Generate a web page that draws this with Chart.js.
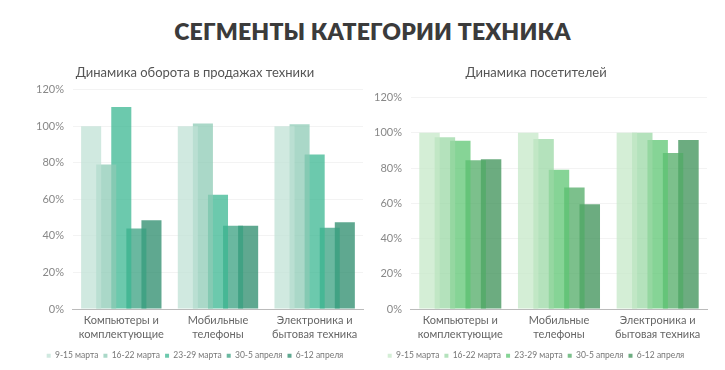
<!DOCTYPE html>
<html>
<head>
<meta charset="utf-8">
<script src="https://cdn.jsdelivr.net/npm/chart.js@4.4.0/dist/chart.umd.min.js"></script>
<style>
  body { margin: 0; background: #fff; width: 725px; height: 370px; position: relative; overflow: hidden; }
  h1 { position: absolute; left: 0; top: 17px; width: 745px; margin: 0; text-align: center;
       font: 800 23px Lato, "Open Sans", sans-serif; color: #3b3b3b; letter-spacing: 0.2px; }
  #wrapOne { position: absolute; left: 27px; top: 60px; width: 338px; height: 310px; }
  #wrapTwo { position: absolute; left: 365px; top: 60px; width: 360px; height: 310px; }
</style>
</head>
<body>
<h1>СЕГМЕНТЫ КАТЕГОРИИ ТЕХНИКА</h1>
<div id="wrapOne"><canvas id="chart_one"></canvas></div>
<div id="wrapTwo"><canvas id="chart_two"></canvas></div>
<script>
let categories = [["Компьютеры и", "комплектующие"], ["Мобильные", "телефоны"], ["Электроника и", "бытовая техника"]];
let weeks = ["9-15 марта", "16-22 марта", "23-29 марта", "30-5 апреля", "6-12 апреля"];
let yTicks = [0, 20, 40, 60, 80, 100, 120];

// dynamics of turnover, % of base week
let salesW1 = [100, 100, 100];
let salesW2 = [79, 101.5, 101];
let salesW3 = [110.5, 62.5, 84.5];
let salesW4 = [44, 45.5, 44.5];
let salesW5 = [48.5, 45.5, 47.5];

// visitors, % of base week
let visitW1 = [100, 100, 100];
let visitW2 = [97.5, 96.5, 100];
let visitW3 = [95.5, 79, 96];
let visitW4 = [84.5, 69, 88.5];
let visitW5 = [85, 59.5, 96];

let tealColors = ["rgba(192,225,214,0.75)", "rgba(142,203,182,0.75)", "rgba(59,183,146,0.75)", "rgba(56,160,128,0.75)", "rgba(42,139,107,0.75)"];
let greenColors = ["rgba(198,232,200,0.75)", "rgba(155,216,166,0.75)", "rgba(94,198,115,0.75)", "rgba(80,171,102,0.75)", "rgba(59,144,86,0.75)"];

let fontFam = "Lato, 'Open Sans', sans-serif";

function makeSets(series, colors) {
    return series.map(function (vals, i) {
        return {
            label: weeks[i],
            data: vals,
            backgroundColor: colors[i],
            borderWidth: 0,
            categoryPercentage: 0.78,
            barPercentage: 1.33
        };
    });
}

function makeOptions(titleText, pad, titlePad) {
    return {
        responsive: true,
        maintainAspectRatio: false,
        animation: false,
        layout: { padding: pad },
        plugins: {
            title: {
                display: true,
                text: titleText,
                color: "#555",
                font: { family: fontFam, size: 13, weight: "normal" },
                padding: titlePad
            },
            legend: {
                position: "bottom",
                labels: {
                    boxWidth: 4,
                    boxHeight: 4,
                    padding: 5,
                    color: "#777",
                    font: { family: fontFam, size: 8.5 }
                }
            },
            tooltip: { enabled: false }
        },
        scales: {
            x: {
                grid: { display: false, drawTicks: false },
                border: { color: "#bbb" },
                ticks: {
                    color: "#666",
                    maxRotation: 0,
                    minRotation: 0,
                    autoSkip: false,
                    font: { family: fontFam, size: 11, lineHeight: 1.25 },
                    padding: 5
                }
            },
            y: {
                min: 0,
                max: 120,
                afterBuildTicks: function (axis) { axis.ticks = yTicks.map(function (v) { return { value: v }; }); },
                grid: { color: "#f3f3f3", drawTicks: false },
                border: { display: false },
                ticks: {
                    color: "#888",
                    padding: 9,
                    font: { family: fontFam, size: 11 },
                    callback: function (v) { return v + "%"; }
                }
            }
        }
    };
}

var ChartOne = new Chart("chart_one", {
    type: "bar",
    data: {
        labels: categories,
        datasets: makeSets([salesW1, salesW2, salesW3, salesW4, salesW5], tealColors)
    },
    options: makeOptions("Динамика оборота в продажах техники", { left: 0, right: 2, top: 0, bottom: 0 }, { top: 5, bottom: 9 })
});

var ChartTwo = new Chart("chart_two", {
    type: "bar",
    data: {
        labels: categories,
        datasets: makeSets([visitW1, visitW2, visitW3, visitW4, visitW5], greenColors)
    },
    options: makeOptions("Динамика посетителей", { left: 0, right: 18, top: 0, bottom: 0 }, { top: 5, bottom: 17 })
});
</script>
</body>
</html>
